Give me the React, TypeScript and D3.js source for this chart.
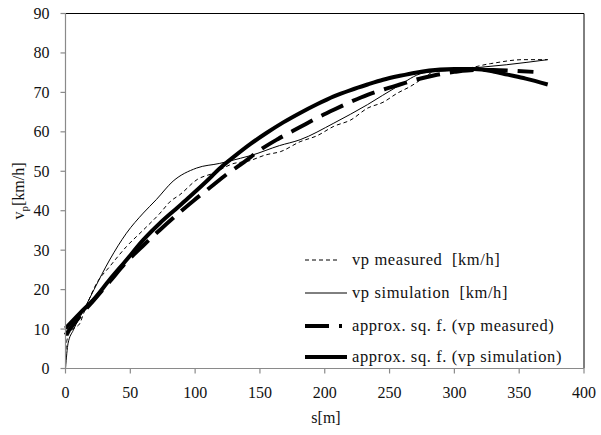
import React from "react";
import * as d3 from "d3";

const xTicks = [0, 50, 100, 150, 200, 250, 300, 350, 400];
const yTicks = [0, 10, 20, 30, 40, 50, 60, 70, 80, 90];

const simS = [0, 2, 6, 14, 22, 34, 47, 60, 70, 83, 101, 119, 135, 143, 165, 181, 207, 233, 256, 276, 300, 315, 340, 372];
const simV = [0, 6.4, 9.7, 14.8, 20, 27.5, 34.3, 39.4, 42.8, 47.5, 50.8, 52, 53.3, 54, 56.5, 58, 62.2, 66.9, 71.5, 74.9, 75.6, 76.2, 77, 78.3];

const measS = [0, 1, 4, 8, 11, 14, 24, 34, 47, 60, 73, 81, 88, 102, 114, 130, 140, 155, 166, 181, 194, 207, 220, 233, 245, 256, 266, 276, 289, 305, 328, 353, 372];
const measV = [3, 7, 9.5, 10.5, 11.4, 14, 21.6, 25.8, 30.9, 35.1, 39.4, 42.4, 44, 48, 49.5, 52, 52.5, 54.2, 55, 57.5, 59, 61.4, 63, 66, 67.5, 69.8, 71.5, 73.6, 76, 76, 77.3, 78.3, 78.3];

const apSimS = [0, 11, 22, 34, 47, 60, 73, 85, 96, 108, 120, 130, 143, 155, 168, 181, 194, 207, 220, 233, 245, 258, 270, 289, 300, 315, 330, 341, 355, 372];
const apSimV = [10.2, 14, 17.6, 22.5, 27.5, 32.6, 36.9, 40.4, 43.6, 47.2, 51, 53.7, 57, 59.7, 62.4, 64.8, 67, 69, 70.6, 72, 73.2, 74.2, 75, 75.8, 75.9, 75.9, 75.3, 74.5, 73.5, 72];

const apMeasS = [0, 11, 22, 34, 47, 60, 73, 86, 99, 112, 125, 138, 151, 164, 181, 194, 207, 220, 233, 246, 258, 270, 284, 300, 315, 330, 345, 361];
const apMeasV = [8.5, 13.2, 17.4, 22, 27, 31.2, 35.2, 39, 42.6, 46, 49.4, 52.4, 55.6, 58.2, 61.2, 63.5, 65.6, 67.6, 69.4, 70.8, 72, 73.2, 74.3, 75.2, 75.7, 75.7, 75.5, 75.2];

const legendLabels = [
  "vp measured  [km/h]",
  "vp simulation  [km/h]",
  "approx. sq. f. (vp measured)",
  "approx. sq. f. (vp simulation)",
];

const FONT = "Liberation Serif, DejaVu Serif, Times New Roman, serif";

export default function App() {
  const x = d3.scaleLinear().domain([0, 400]).range([65.5, 584]);
  const y = d3.scaleLinear().domain([0, 90]).range([368.5, 13.5]);
  const line = (S: number[], V: number[]) =>
    d3
      .line<number>()
      .x((_, i) => x(S[i]))
      .y((_, i) => y(V[i]))
      .curve(d3.curveMonotoneX)(S) as string;

  const styles = [
    { w: 1, dash: "4 3", x2: 340 },
    { w: 1, dash: undefined, x2: 347 },
    { w: 4, dash: "24 10", x2: 342 },
    { w: 4, dash: undefined, x2: 347 },
  ];
  const series = [
    line(measS, measV),
    line(simS, simV),
    line(apMeasS, apMeasV),
    line(apSimS, apSimV),
  ];
  const legY = [260, 293, 326, 357];
  const x0 = x(0), x1 = x(400), y0 = y(0), y1 = y(90);

  return (
    <svg
      width={601}
      height={435}
      style={{ position: "absolute", left: 0, top: 0, background: "#fff", fontFamily: FONT }}
    >
      <rect x={0} y={0} width={601} height={435} fill="#fff" />
      <line x1={x0} y1={y1} x2={x1} y2={y1} stroke="#000" strokeWidth={1} />
      <line x1={x1} y1={y1} x2={x1} y2={y0} stroke="#000" strokeWidth={1} />
      {series.map((d, i) => (
        <path
          key={i}
          d={d}
          fill="none"
          stroke="#000"
          strokeWidth={styles[i].w}
          strokeDasharray={styles[i].dash}
          strokeLinejoin="round"
        />
      ))}
      <line x1={x0} y1={y1} x2={x0} y2={y0} stroke="#8a8a8a" strokeWidth={1.2} />
      <line x1={x0} y1={y0} x2={x1} y2={y0} stroke="#8a8a8a" strokeWidth={1.2} />
      {yTicks.map((t) => (
        <g key={"y" + t}>
          <line x1={x0 - 5} x2={x0} y1={y(t)} y2={y(t)} stroke="#8a8a8a" strokeWidth={1.2} />
          <text x={49.5} y={y(t) + 5.5} textAnchor="end" fontSize={16} fill="#111" fontFamily={FONT}>
            {t}
          </text>
        </g>
      ))}
      {xTicks.map((t) => (
        <g key={"x" + t}>
          <line x1={x(t)} x2={x(t)} y1={y0} y2={y0 + 5} stroke="#8a8a8a" strokeWidth={1.2} />
          <text x={x(t)} y={398} textAnchor="middle" fontSize={16} fill="#111" fontFamily={FONT}>
            {t}
          </text>
        </g>
      ))}
      <text x={326} y={423} textAnchor="middle" fontSize={16} fill="#111" fontFamily={FONT}>
        s[m]
      </text>
      <text
        transform="translate(24,191) rotate(-90)"
        textAnchor="middle"
        fontSize={16}
        fill="#111"
        fontFamily={FONT}
      >
        v<tspan fontSize={11} dy={4}>p</tspan>
        <tspan dy={-4}>[km/h]</tspan>
      </text>
      {legendLabels.map((lab, i) => (
        <g key={lab}>
          <line
            x1={305}
            x2={styles[i].x2}
            y1={legY[i]}
            y2={legY[i]}
            stroke="#000"
            strokeWidth={styles[i].w}
            strokeDasharray={styles[i].dash}
          />
          <text
            x={352}
            y={legY[i] + 5}
            fontSize={16.5}
            letterSpacing={0.6}
            fill="#111"
            fontFamily={FONT}
            xmlSpace="preserve"
          >
            {lab}
          </text>
        </g>
      ))}
    </svg>
  );
}
